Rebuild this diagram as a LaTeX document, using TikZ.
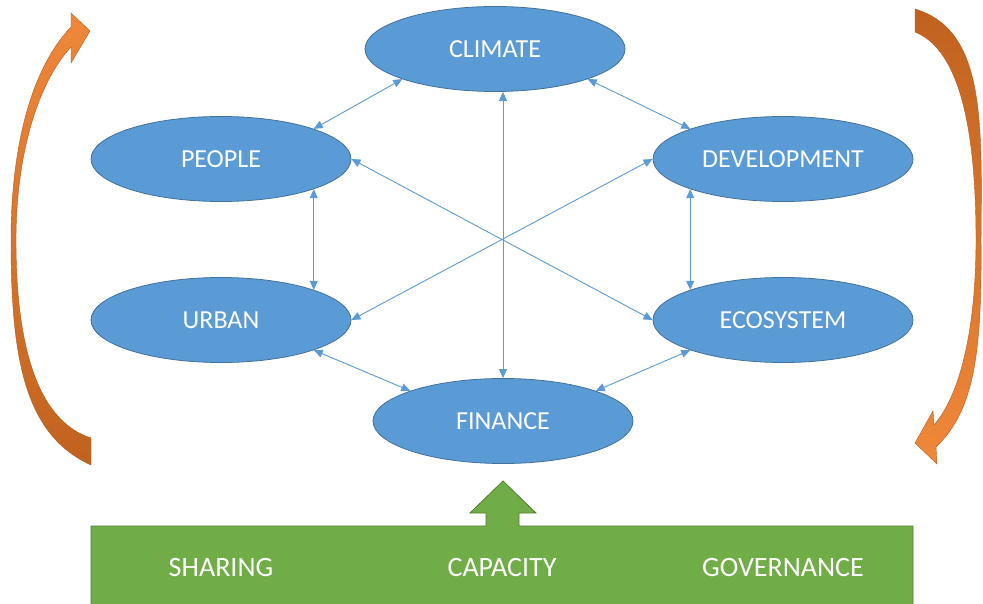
\documentclass[tikz,border=0pt]{standalone}
\usepackage{fontspec}
\setmainfont{Carlito}
\usetikzlibrary{shapes.geometric,arrows.meta}
\definecolor{ellfill}{HTML}{5B9BD5}
\definecolor{elldraw}{HTML}{41719C}
\definecolor{linkblue}{HTML}{5B9BD5}
\definecolor{grfill}{HTML}{70AD47}
\definecolor{grdraw}{HTML}{507E32}
\definecolor{orlight}{HTML}{F0883A}
\definecolor{ordark}{HTML}{C0621F}
\definecolor{ordraw}{HTML}{B85A1A}
\tikzset{
  ell/.style={ellipse, fill=ellfill, draw=elldraw, line width=0.8pt,
    minimum width=260pt, minimum height=85pt, inner sep=0pt,
    text=white, font=\fontsize{26}{30}\selectfont},
  link/.style={draw=linkblue, line width=0.9pt,
    arrows={Triangle[length=9pt,width=8pt]-Triangle[length=9pt,width=8pt]}},
  grtext/.style={text=white, font=\fontsize{28}{32}\selectfont, inner sep=0pt},
  curvarrow/.style={draw=ordraw, line width=0.4pt}
}
\begin{document}
\begin{tikzpicture}[x=1pt,y=-1pt]
\useasboundingbox (0,0) rectangle (983,604);

% curved arrows
\shade[curvarrow, top color=orlight, bottom color=ordark]
  (91,465) .. controls (25,435) and (11,360) .. (11,240)
  .. controls (11,150) and (30,70) .. (71,27)
  -- (71,13) -- (90,31) -- (71,63) -- (71,47)
  .. controls (40,80) and (16,150) .. (16,240)
  .. controls (16,340) and (35,420) .. (91,438) -- cycle;
\shade[curvarrow, top color=ordark, bottom color=orlight]
  (915,9) .. controls (985,30) and (982,120) .. (981,240)
  .. controls (982,350) and (975,410) .. (936,447)
  -- (937,464) -- (915,443) -- (933,411) -- (934,425)
  .. controls (960,395) and (976,330) .. (976,240)
  .. controls (976,130) and (960,50) .. (915,32) -- cycle;

% green base with arrow
\filldraw[fill=grfill, draw=grdraw, line width=0.8pt]
  (91,605) -- (91,526) -- (486,526) -- (486,513) -- (470,513) -- (503,481)
  -- (536,513) -- (519,513) -- (519,526) -- (913,526) -- (913,605);
\node[grtext] (sharing) at (221,568) {SHARING};
\node[grtext] (capacity) at (502,568) {CAPACITY};
\node[grtext] (governance) at (783,568) {GOVERNANCE};

% ellipses
\node[ell] (climate) at (495,49) {CLIMATE};
\node[ell] (people) at (221,159) {PEOPLE};
\node[ell] (development) at (783,159) {DEVELOPMENT};
\node[ell] (urban) at (221,320) {URBAN};
\node[ell] (ecosystem) at (783,320) {ECOSYSTEM};
\node[ell] (finance) at (503,421) {FINANCE};

% connectors
\draw[link] (climate.198) -- (people.18);
\draw[link] (climate.342) -- (development.162);
\draw[link] (climate.south -| finance.north) -- (finance.north);
\draw[link] (people.342) -- (urban.18);
\draw[link] (development.198) -- (ecosystem.162);
\draw[link] (people.east) -- (ecosystem.west);
\draw[link] (development.west) -- (urban.east);
\draw[link] (urban.342) -- (finance.162);
\draw[link] (ecosystem.198) -- (finance.18);
\end{tikzpicture}
\end{document}
